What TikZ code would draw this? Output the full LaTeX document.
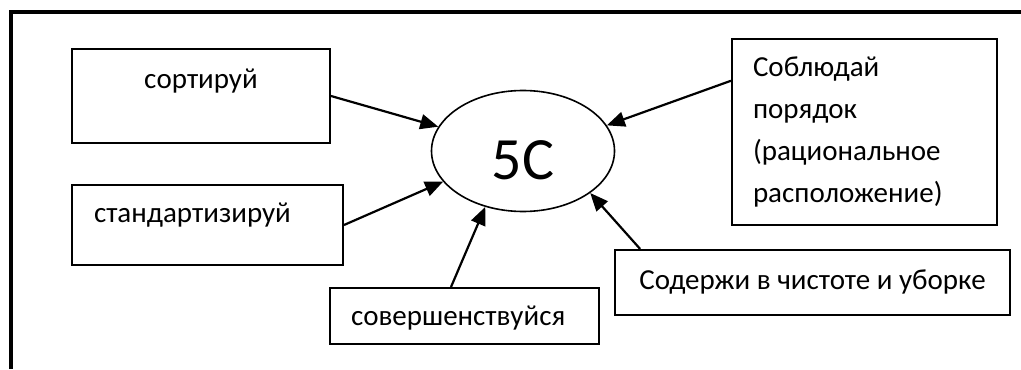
\documentclass[tikz,border=0pt]{standalone}
\usepackage{fontspec}
\setmainfont{Carlito}
\usetikzlibrary{shapes.geometric, arrows.meta, positioning}
\tikzset{
  box/.style={rectangle, draw=black, line width=1pt, inner sep=0pt, text centered, font=\fontsize{14.5}{21}\selectfont},
  hub/.style={ellipse, draw=black, line width=0.8pt, minimum width=91.5pt, minimum height=60.5pt, inner sep=0pt, font=\fontsize{30}{30}\selectfont},
  arrow/.style={line width=1.1pt, -{Triangle[length=9pt,width=7.5pt]}},
  frame/.style={line width=1.6pt}
}

\begin{document}
\begin{tikzpicture}[x=0.5pt, y=-0.5pt]
\useasboundingbox (0,0) rectangle (1021,369);
\draw[frame] (11,369) |- (1021,12);

% centre and the five boxes round it
\node[hub, text height=28.5pt] (core) at (523,151) {5C};
\node[box, minimum width=129pt, text height=20pt, text depth=27pt] (sort) at (201,96) {сортируй};
\node[box, below=20pt of sort.south west, anchor=north west, text width=113.5pt, inner xsep=11pt, align=left, text height=18.5pt, text depth=21.5pt] (std) {стандартизируй};
\node[box, anchor=north west, text width=113.5pt, inner xsep=10.5pt, align=left, text height=18.5pt, text depth=9.5pt] (perf) at (329,287) {совершенствуйся};
\node[box, text width=111.5pt, inner xsep=10.5pt, minimum height=93pt, align=left] (order) at (864.5,132) {Соблюдай\\порядок\\(рациональное\\расположение)};
\node[box, minimum width=197.5pt, minimum height=32.5pt] (clean) at (812.5,282.5) {Содержи в чистоте и уборке};

\draw[arrow] (sort.east) -- (core.164);
\draw[arrow] (std.east) -- (core.201);
\draw[arrow] (perf.115) -- (core.236);
\draw[arrow] (order.159) -- (core.17);
\draw[arrow] (clean.169) -- (core.328);
\end{tikzpicture}
\end{document}
